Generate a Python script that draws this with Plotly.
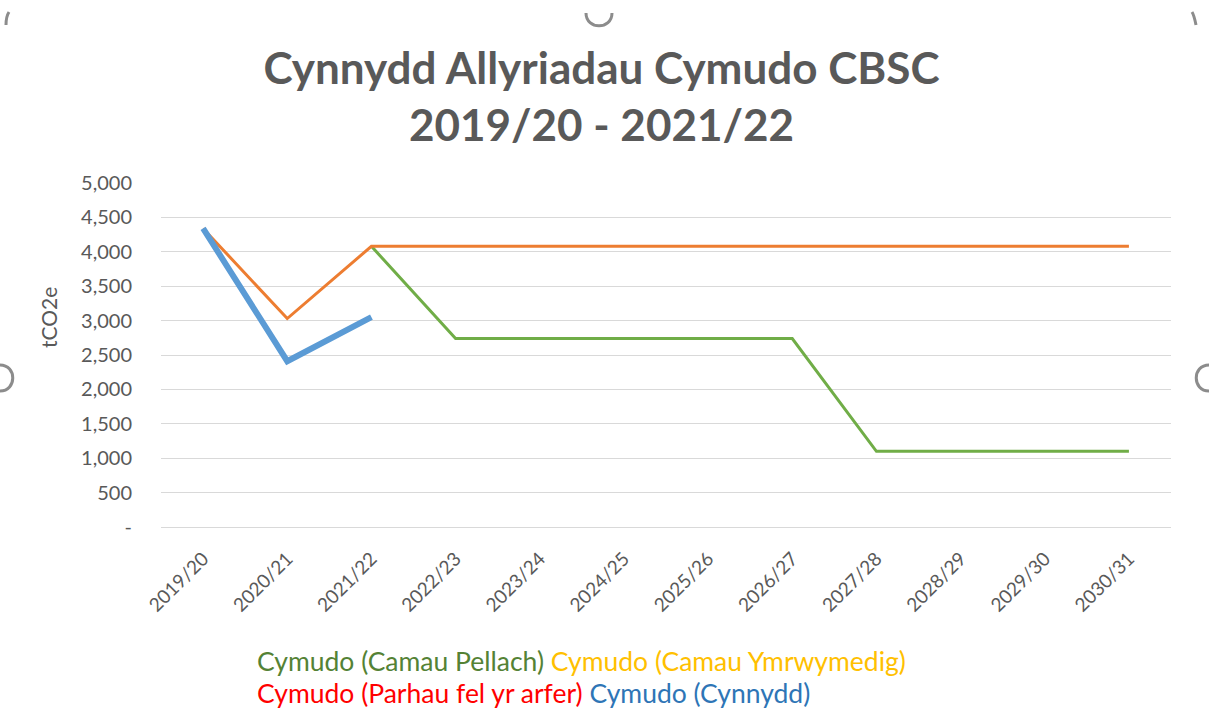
import plotly.graph_objects as go

# ---- data ----
categories = ["2019/20", "2020/21", "2021/22", "2022/23", "2023/24", "2024/25",
              "2025/26", "2026/27", "2027/28", "2028/29", "2029/30", "2030/31"]
camau_pellach = [None, None, 4080, 2740, 2740, 2740, 2740, 2740, 1100, 1100, 1100, 1100]
parhau_fel_yr_arfer = [4340, 3030, 4080, 4080, 4080, 4080, 4080, 4080, 4080, 4080, 4080, 4080]
cynnydd = [4340, 2410, 3050, None, None, None, None, None, None, None, None, None]

y_tick_vals = [0, 500, 1000, 1500, 2000, 2500, 3000, 3500, 4000, 4500, 5000]
y_tick_text = ["-", "500", "1,000", "1,500", "2,000", "2,500", "3,000", "3,500", "4,000", "4,500", "5,000"]

legend_names = ["Cymudo (Camau Pellach)", "Cymudo (Camau Ymrwymedig)",
                "Cymudo (Parhau fel yr arfer)", "Cymudo (Cynnydd)"]
legend_colors = ["#548235", "#FFC000", "#FF0000", "#2E75B6"]

title_text = "Cynnydd Allyriadau Cymudo CBSC<br>2019/20 - 2021/22"
y_title = "tCO2e"

# ---- layout geometry (pixels) ----
W, H = 1209, 711
L, R, T, B = 161, 38, 183, 184
pw, ph = W - L - R, H - T - B

def px(x):
    return (x - L) / pw

def py(y):
    return (H - B - y) / ph

FONT = "Lato"
GREY = "#595959"

fig = go.Figure()
fig.add_trace(go.Scatter(x=categories, y=camau_pellach, mode="lines",
                         name=legend_names[0], line=dict(color="#70AD47", width=3)))
fig.add_trace(go.Scatter(x=categories, y=parhau_fel_yr_arfer, mode="lines",
                         name=legend_names[2], line=dict(color="#ED7D31", width=3)))
fig.add_trace(go.Scatter(x=categories, y=cynnydd, mode="lines",
                         name=legend_names[3], line=dict(color="#5B9BD5", width=6)))

fig.update_layout(
    width=W, height=H,
    margin=dict(l=L, r=R, t=T, b=B, autoexpand=False),
    paper_bgcolor="white", plot_bgcolor="white",
    showlegend=False,
    font=dict(family=FONT, color=GREY),
    title=dict(text=title_text, x=0.4975, xref="container", xanchor="center",
               y=1 - 84 / H, yanchor="middle",
               font=dict(family=FONT, size=44, color=GREY, weight="bold")),
    xaxis=dict(type="category", tickangle=-45, showgrid=False, ticks="",
               showline=False, tickfont=dict(size=19, color=GREY),
               ticklabelstandoff=16,
               range=[-0.5, len(categories) - 0.5], fixedrange=True),
    yaxis=dict(range=[0, 5000], tickvals=y_tick_vals, ticktext=y_tick_text,
               showgrid=True, gridcolor="#D9D9D9", gridwidth=1,
               zeroline=True, zerolinecolor="#D9D9D9", zerolinewidth=1,
               showline=False, ticks="", ticklabelstandoff=28,
               tickfont=dict(size=20, color=GREY), fixedrange=True),
)

# y-axis title
fig.add_annotation(text=y_title, xref="paper", yref="paper", x=px(48), y=py(318),
                   xanchor="center", yanchor="middle", textangle=-90, showarrow=False,
                   font=dict(family=FONT, size=21, color=GREY))

# legend rows as coloured text
rows = [[0, 1], [2, 3]]
row_y = [661, 693]
for r, idx in enumerate(rows):
    txt = " ".join(f"<span style='color:{legend_colors[i]}'>{legend_names[i]}</span>" for i in idx)
    fig.add_annotation(text=txt, xref="paper", yref="paper", x=px(255), y=py(row_y[r]),
                       xanchor="left", yanchor="middle", showarrow=False,
                       font=dict(family=FONT, size=26.5))

# selection-handle arcs (decoration)
handle = dict(color="#8C8C8C", width=3)
def path(pts):
    (x0, y0), (c1x, c1y), (c2x, c2y), (x1, y1) = pts
    return (f"M {px(x0)},{py(y0)} C {px(c1x)},{py(c1y)} {px(c2x)},{py(c2y)} {px(x1)},{py(y1)}")

arcs = [
    [(586, 13), (586, 30), (612, 30), (612, 13)],
    [(0, 365), (17, 365), (17, 391), (0, 391)],
    [(1209, 365), (1192, 365), (1192, 391), (1209, 391)],
    [(9, 12), (7, 15), (6, 20), (6, 25)],
    [(1192, 12), (1194, 15), (1195, 20), (1196, 25)],
]
for a in arcs:
    fig.add_shape(type="path", path=path(a), xref="paper", yref="paper", line=handle)

fig.write_html("out.html", config={"displayModeBar": False},
               post_script="document.body.style.margin='0';document.body.style.overflow='hidden';")
